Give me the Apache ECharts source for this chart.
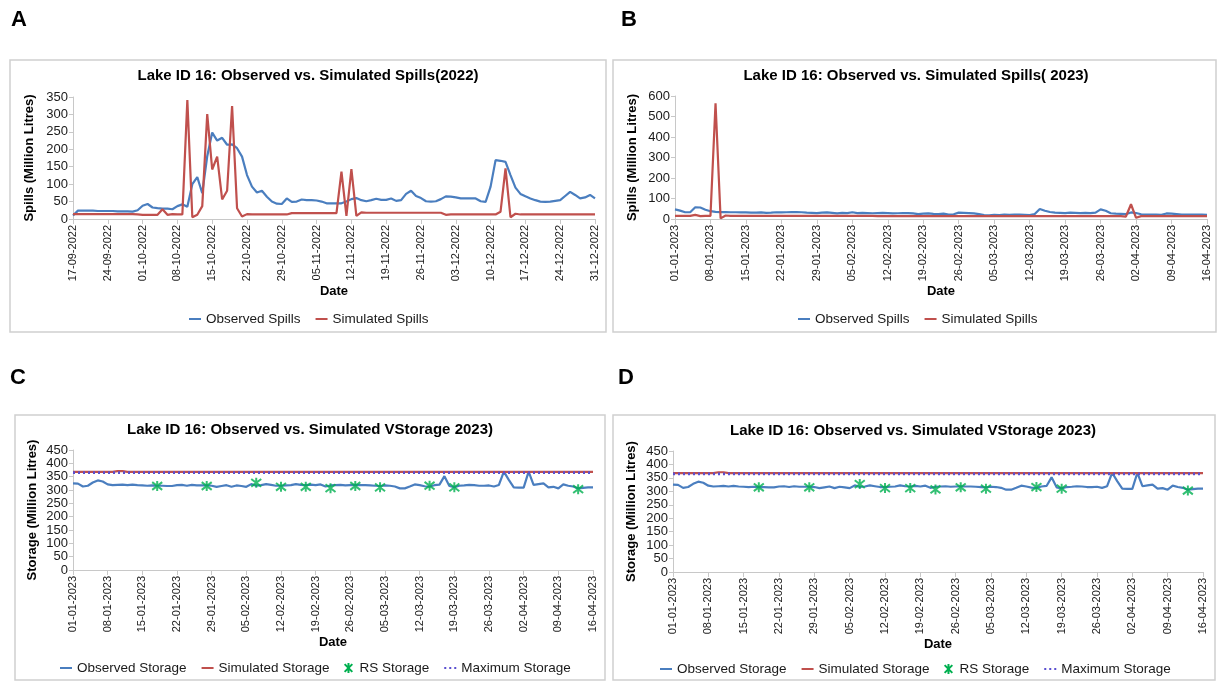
<!DOCTYPE html>
<html><head><meta charset="utf-8">
<script src="https://cdn.jsdelivr.net/npm/echarts@6/dist/echarts.min.js"></script>
<style>html,body{margin:0;padding:0;background:#fff}#c{width:1217px;height:682px}</style>
</head><body><div id="c"></div>
<script>
// ---- Data ----
const start2022 = [2022, 9, 17];
const start2023 = [2023, 1, 1];
const nDays = 106;

const obsSpills2022 = [
 10,24,24,24,24,23,23,23,23,22,
 22,22,21,25,38,43,33,31,30,30,
 28,37,42,35,100,120,74,180,248,225,
 233,213,214,203,179,126,93,76,81,64,
 50,44,43,59,49,50,56,54,54,53,
 50,45,45,45,45,50,57,60,54,51,
 54,58,55,55,59,52,54,72,81,66,
 60,51,50,51,57,65,64,62,59,59,
 59,59,51,49,93,169,167,164,126,90,
 72,65,59,54,50,49,50,52,54,66,
 78,69,59,62,69,59];
const simSpills2022 = [
 14,14,14,14,14,14,14,14,14,14,
 14,14,14,13,12,12,12,12,28,12,
 14,13,13,341,5,12,37,301,142,179,
 56,81,324,31,7,14,13,13,13,13,
 13,13,13,13,17,17,17,17,17,17,
 17,17,17,17,136,9,143,9,19,18,
 18,18,18,18,18,18,18,18,18,18,
 18,18,18,18,18,12,13,13,13,13,
 13,13,13,13,13,13,21,145,5,15,
 13,13,13,13,13,13,13,13,13,13,
 13,13,13,13,13,13];
const obsSpills2023 = [
 47,41,33,33,57,56,45,38,35,34,
 34,33,33,32,32,31,31,32,30,31,
 33,32,33,34,34,33,31,30,29,31,
 32,30,27,30,29,33,29,30,29,28,
 29,30,29,27,28,29,29,27,24,26,
 27,25,24,26,22,23,31,30,29,27,
 24,19,18,20,19,21,20,22,21,20,
 19,24,49,40,34,31,30,29,31,30,
 29,30,29,31,47,40,28,26,25,24,
 32,29,23,21,22,21,20,27,26,24,
 22,22,22,21,21,20];
const simSpills2023 = [
 15,15,15,15,20,14,15,15,565,3,
 17,15,15,15,15,15,15,15,15,15,
 15,15,15,15,15,15,15,15,15,15,
 15,15,15,15,15,15,15,15,15,15,
 14,14,14,14,14,14,14,14,14,14,
 14,14,14,14,14,14,14,14,14,14,
 14,14,14,14,14,14,14,14,14,14,
 14,14,14,14,14,14,14,14,14,14,
 14,14,14,14,14,14,14,14,14,12,
 72,6,14,14,14,14,14,14,14,14,
 14,14,14,14,14,14];
const obsStorage2023 = [
 325,324,313,316,328,336,332,321,318,319,
 320,318,320,318,317,316,317,316,316,315,
 315,318,319,316,319,317,317,317,316,312,
 315,318,312,317,315,312,322,316,318,322,
 319,316,316,317,318,322,319,318,320,318,
 321,313,317,318,319,317,318,319,318,318,
 317,316,315,317,316,313,306,306,313,321,
 318,314,313,318,320,352,315,311,316,317,
 319,318,316,316,317,313,319,369,338,310,
 309,309,369,319,322,325,310,312,306,321,
 316,313,306,308,310,310];
const simStorage2023 = [
 368,368,368,368,368,368,368,368,368,371,
 371,368,368,368,368,368,368,368,368,368,
 368,368,368,368,368,368,368,368,368,368,
 368,368,368,368,368,368,368,368,368,368,
 368,368,368,368,368,368,368,368,368,368,
 368,368,368,368,368,368,368,368,368,368,
 368,368,368,368,368,368,368,368,368,368,
 368,368,368,368,368,368,368,368,368,368,
 368,368,368,368,368,368,368,368,368,368,
 368,368,368,368,368,368,368,368,368,368,
 368,368,368,368,368,368];
const maxStorage2023 = [
 365,365,365,365,365,365,365,365,365,365,
 365,365,365,365,365,365,365,365,365,365,
 365,365,365,365,365,365,365,365,365,365,
 365,365,365,365,365,365,365,365,365,365,
 365,365,365,365,365,365,365,365,365,365,
 365,365,365,365,365,365,365,365,365,365,
 365,365,365,365,365,365,365,365,365,365,
 365,365,365,365,365,365,365,365,365,365,
 365,365,365,365,365,365,365,365,365,365,
 365,365,365,365,365,365,365,365,365,365,
 365,365,365,365,365,365];
const rsDayIndex = [17,27,37,42,47,52,57,62,72,77,102];
const rsStorage  = [315,315,327,312,312,307,315,310,316,310,303];

const titles = [
 'Lake ID 16: Observed vs. Simulated Spills(2022)',
 'Lake ID 16: Observed vs. Simulated Spills( 2023)',
 'Lake ID 16: Observed vs. Simulated VStorage 2023)',
 'Lake ID 16: Observed vs. Simulated VStorage 2023)'
];
const panelLetters = ['A','B','C','D'];

function makeDates(y, m, d, n) {
  const out = [];
  for (let i = 0; i < n; i++) {
    const dt = new Date(Date.UTC(y, m - 1, d + i));
    const dd = String(dt.getUTCDate()).padStart(2, '0');
    const mm = String(dt.getUTCMonth() + 1).padStart(2, '0');
    out.push(dd + '-' + mm + '-' + dt.getUTCFullYear());
  }
  return out;
}
const dates2022 = makeDates(start2022[0], start2022[1], start2022[2], nDays);
const dates2023 = makeDates(start2023[0], start2023[1], start2023[2], nDays);
const rsPoints = rsDayIndex.map((d, i) => [dates2023[d], rsStorage[i]]);

// ---- Styles ----
const FONT = 'Liberation Sans, Arial, sans-serif';
const BLUE = '#4a7ebf', RED = '#c0504d', GREEN = '#00b050', PURPLE = '#5a4fd0';
const AX = '#c8c8c8', TXT = '#1a1a1a';
const asterisk = 'path://M0,0L10,10M10,0L0,10M5,-1.5L5,11.5';

const grids = [
  {left: 73, top: 97, width: 522, height: 122},
  {left: 675, top: 96, width: 532, height: 123},
  {left: 73, top: 450, width: 520, height: 120},
  {left: 673, top: 451, width: 530, height: 121}
];
const yCfg = [
  {min: 0, max: 350, interval: 50, name: 'Spills (Million Litres)', gap: 37},
  {min: 0, max: 600, interval: 100, name: 'Spills (Million Litres)', gap: 36},
  {min: 0, max: 450, interval: 50, name: 'Storage (Million Litres)', gap: 34},
  {min: 0, max: 450, interval: 50, name: 'Storage (Million Litres)', gap: 35}
];
const xData = [dates2022, dates2023, dates2023, dates2023];
const xNameGap = [66, 66, 65, 64];

const xAxes = xData.map((dat, i) => ({
  type: 'category', gridIndex: i, data: dat, boundaryGap: false,
  axisLine: {lineStyle: {color: AX, width: 1}},
  axisTick: {interval: 6, length: 5, lineStyle: {color: AX}},
  axisLabel: {interval: 6, rotate: 90, fontSize: 11, color: TXT, margin: 6, fontFamily: FONT},
  splitLine: {show: false},
  name: 'Date', nameLocation: 'middle', nameGap: xNameGap[i],
  nameTextStyle: {fontWeight: 'bold', fontSize: 13, color: '#000', fontFamily: FONT}
}));
const yAxes = yCfg.map((c, i) => ({
  type: 'value', gridIndex: i, min: c.min, max: c.max, interval: c.interval,
  axisLine: {show: true, lineStyle: {color: AX, width: 1}},
  axisTick: {show: true, length: 4, lineStyle: {color: AX}},
  axisLabel: {fontSize: 13, color: TXT, margin: 5, fontFamily: FONT},
  splitLine: {show: false},
  name: c.name, nameLocation: 'middle', nameGap: c.gap,
  nameTextStyle: {fontWeight: 'bold', fontSize: 13, color: '#000', fontFamily: FONT}
}));

function line(name, data, gi, color, type, width, z) {
  return {
    type: 'line', name: name, data: data, xAxisIndex: gi, yAxisIndex: gi,
    symbol: 'none', showSymbol: false, z: z || 2,
    lineStyle: {color: color, width: width || 2.2, type: type || 'solid'},
    itemStyle: {color: color}, emphasis: {disabled: true}
  };
}
function rs(gi) {
  return {
    type: 'scatter', name: 'RS Storage', data: rsPoints, xAxisIndex: gi, yAxisIndex: gi,
    symbol: asterisk, symbolSize: 10, z: 5,
    itemStyle: {color: GREEN, borderColor: GREEN, borderWidth: 2}, emphasis: {disabled: true}
  };
}
const series = [
  line('Observed Spills', obsSpills2022, 0, BLUE),
  line('Simulated Spills', simSpills2022, 0, RED),
  line('Observed Spills', obsSpills2023, 1, BLUE),
  line('Simulated Spills', simSpills2023, 1, RED),
];
[2, 3].forEach(gi => {
  series.push(line('Observed Storage', obsStorage2023, gi, BLUE));
  series.push(line('Simulated Storage', simStorage2023, gi, RED));
  series.push(rs(gi));
  series.push(line('Maximum Storage', maxStorage2023, gi, PURPLE, [2, 3], 2.6, 4));
});

function legend(left, top, names, gap) {
  return {
    left: left, top: top, itemWidth: 12, itemHeight: 10, itemGap: gap, selectedMode: false,
    itemStyle: {opacity: 0},
    textStyle: {fontSize: 13.5, color: TXT, fontFamily: FONT},
    data: names.map(n => n === 'RS Storage' ? {name: n, itemStyle: {opacity: 1}} : {name: n})
  };
}
const spillNames = ['Observed Spills', 'Simulated Spills'];
const storNames = ['Observed Storage', 'Simulated Storage', 'RS Storage', 'Maximum Storage'];
const legends = [
  legend(183, 307, spillNames, 14),
  legend(792, 307, spillNames, 14),
  legend(54, 656, storNames, 14),
  legend(654, 657, storNames, 14)
];

const borders = [
  [10, 60, 596, 272], [613, 60, 603, 272], [15, 415, 590, 265], [613, 415, 602, 265]
];
const titlePos = [[308, 76], [916, 76], [310, 430], [913, 431]];
const letterPos = [[11, 20], [621, 20], [10, 378], [618, 378]];

const graphic = [];
borders.forEach(b => graphic.push({
  type: 'rect', shape: {x: b[0], y: b[1], width: b[2], height: b[3]},
  style: {fill: 'none', stroke: '#d0d0d0', lineWidth: 1.5}, silent: true, z: 0
}));
titles.forEach((t, i) => graphic.push({
  type: 'text', x: titlePos[i][0], y: titlePos[i][1], silent: true,
  style: {text: t, fill: '#000', font: 'bold 15px ' + FONT, align: 'center', verticalAlign: 'middle',
          textAlign: 'center', textVerticalAlign: 'middle'}
}));
panelLetters.forEach((t, i) => graphic.push({
  type: 'text', x: letterPos[i][0], y: letterPos[i][1], silent: true,
  style: {text: t, fill: '#000', font: 'bold 22px ' + FONT, align: 'left', verticalAlign: 'middle',
          textAlign: 'left', textVerticalAlign: 'middle'}
}));

const chart = echarts.init(document.getElementById('c'), null, {renderer: 'canvas'});
chart.setOption({
  animation: false,
  backgroundColor: '#ffffff',
  textStyle: {fontFamily: FONT},
  grid: grids,
  xAxis: xAxes,
  yAxis: yAxes,
  legend: legends,
  series: series,
  graphic: graphic
});
</script></body></html>
